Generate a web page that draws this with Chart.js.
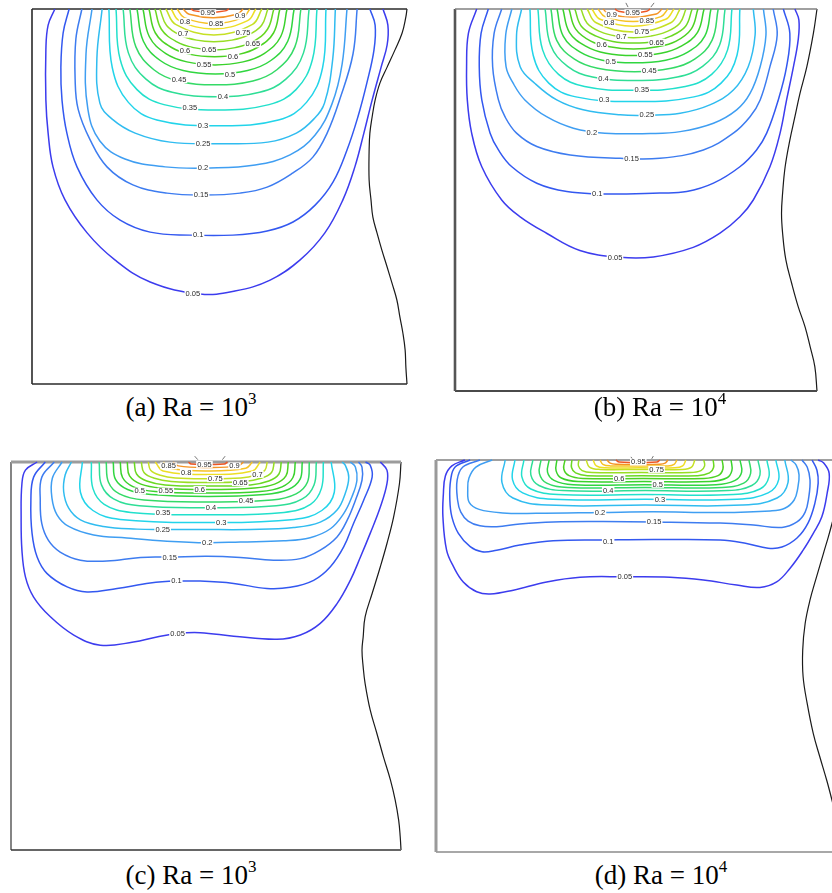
<!DOCTYPE html>
<html>
<head>
<meta charset="utf-8">
<script src="https://cdn.jsdelivr.net/npm/chart.js@4.4.1/dist/chart.umd.min.js"></script>
<style>
  html, body { margin: 0; padding: 0; background: #fff; width: 832px; height: 893px; overflow: hidden; position: relative; }
  canvas { position: absolute; }
  .cap { position: absolute; width: 260px; text-align: center; white-space: nowrap;
         font-family: "Liberation Serif", "Times New Roman", serif; font-size: 27px; line-height: 27px; color: #000; }
  .cap sup { font-size: 17px; vertical-align: baseline; position: relative; top: -12px; }
</style>
</head>
<body>
<canvas id="pa"></canvas>
<canvas id="pb"></canvas>
<canvas id="pc"></canvas>
<canvas id="pd"></canvas>
<div class="cap" style="left:61px;top:394px">(a) Ra = 10<sup>3</sup></div>
<div class="cap" style="left:530px;top:394px">(b) Ra = 10<sup>4</sup></div>
<div class="cap" style="left:61px;top:862px">(c) Ra = 10<sup>3</sup></div>
<div class="cap" style="left:531px;top:862px">(d) Ra = 10<sup>4</sup></div>
<script>
// Isotherm levels (dimensionless temperature) drawn in every panel
const levels = [0.05, 0.1, 0.15, 0.2, 0.25, 0.3, 0.35, 0.4, 0.45, 0.5,
                0.55, 0.6, 0.65, 0.7, 0.75, 0.8, 0.85, 0.9, 0.95];

// Isotherm paths in the unit cavity (x: 0 left wall .. 1 top-right corner, y: 0 bottom .. 1 top)
const contoursA = [
  [[.061,1],[.043,.957],[.037,.891],[.037,.757],[.043,.669],[.056,.579],[.088,.491],[.147,.403],[.221,.331],[.315,.272],[.448,.240],[.541,.248],[.635,.277],[.715,.331],[.781,.403],[.829,.491],[.861,.579],[.885,.669],[.907,.757],[.931,.845],[.947,.904],[.949,.957],[.936,1]],
  [[.099,1],[.083,.936],[.077,.845],[.080,.757],[.093,.669],[.120,.579],[.173,.491],[.235,.437],[.315,.405],[.421,.397],[.536,.397],[.627,.408],[.696,.432],[.755,.477],[.803,.539],[.840,.624],[.869,.712],[.893,.803],[.912,.891],[.915,.957],[.901,1]],
  [[.133,1],[.117,.920],[.115,.813],[.123,.733],[.155,.651],[.200,.579],[.269,.531],[.360,.509],[.461,.504],[.555,.509],[.627,.525],[.696,.563],[.749,.605],[.787,.669],[.821,.760],[.856,.880],[.867,1]],
  [[.160,1],[.144,.880],[.149,.733],[.181,.648],[.248,.600],[.355,.579],[.475,.576],[.595,.584],[.688,.611],[.755,.664],[.800,.747],[.827,.853],[.840,1]],
  [[.187,1],[.173,.867],[.181,.749],[.213,.707],[.275,.669],[.368,.645],[.499,.641],[.629,.645],[.705,.669],[.752,.707],[.780,.749],[.802,.867],[.809,1]],
  [[.205,1],[.214,.844],[.257,.751],[.333,.704],[.497,.689],[.657,.704],[.732,.751],[.775,.844],[.784,1]],
  [[.224,1],[.235,.866],[.280,.785],[.352,.745],[.492,.731],[.632,.745],[.704,.785],[.748,.866],[.760,1]],
  [[.243,1],[.257,.883],[.304,.813],[.374,.778],[.491,.766],[.607,.778],[.677,.813],[.724,.883],[.739,1]],
  [[.261,1],[.277,.899],[.325,.838],[.389,.808],[.489,.798],[.589,.808],[.653,.838],[.701,.899],[.717,1]],
  [[.280,1],[.297,.914],[.343,.862],[.403,.836],[.489,.827],[.575,.836],[.636,.862],[.682,.914],[.699,1]],
  [[.296,1],[.313,.926],[.357,.881],[.413,.859],[.488,.851],[.563,.859],[.619,.881],[.663,.926],[.680,1]],
  [[.312,1],[.329,.936],[.371,.898],[.422,.879],[.487,.873],[.551,.879],[.602,.898],[.644,.936],[.661,1]],
  [[.328,1],[.345,.946],[.385,.913],[.431,.897],[.487,.891],[.542,.897],[.589,.913],[.628,.946],[.645,1]],
  [[.341,1],[.359,.956],[.396,.930],[.439,.917],[.485,.913],[.533,.917],[.575,.930],[.612,.956],[.629,1]],
  [[.357,1],[.383,.959],[.485,.931],[.588,.959],[.613,1]],
  [[.371,1],[.393,.969],[.484,.947],[.575,.969],[.597,1]],
  [[.387,1],[.406,.977],[.484,.961],[.562,.977],[.581,1]],
  [[.403,1],[.419,.986],[.483,.977],[.547,.986],[.563,1]],
  [[.424,1],[.434,.995],[.475,.991],[.515,.995],[.525,1]]
];
const wallA = [[1,1],[.997,.979],[.987,.936],[.968,.891],[.947,.845],[.928,.803],[.915,.757],[.907,.712],[.901,.669],[.899,.624],[.899,.544],[.904,.491],[.909,.445],[.920,.403],[.933,.357],[.947,.312],[.960,.269],[.973,.224],[.981,.179],[.989,.136],[.995,.091],[.997,.045],[1,0]];
const labelsA = [[0.95,.469,.990],[0.9,.555,.981],[0.8,.408,.967],[0.85,.491,.960],[0.7,.403,.933],[0.75,.563,.938],
  [0.65,.589,.907],[0.6,.408,.888],[0.65,.472,.891],[0.6,.536,.873],[0.55,.459,.851],[0.5,.528,.824],[0.45,.392,.812],
  [0.4,.509,.765],[0.35,.421,.737],[0.3,.456,.688],[0.25,.456,.640],[0.2,.456,.577],[0.15,.451,.504],[0.1,.443,.397],[0.05,.429,.240]];
const ticksA = [];

const contoursB = [
  [[.060,1],[.037,.936],[.032,.849],[.034,.762],[.046,.675],[.074,.587],[.129,.500],[.180,.456],[.253,.413],[.345,.368],[.456,.350],[.548,.351],[.658,.376],[.732,.413],[.787,.456],[.824,.500],[.870,.587],[.898,.675],[.916,.762],[.935,.849],[.948,.919],[.950,.971],[.939,1]],
  [[.092,1],[.072,.936],[.067,.849],[.074,.762],[.097,.675],[.120,.631],[.157,.587],[.226,.544],[.309,.522],[.401,.516],[.474,.516],[.566,.518],[.640,.522],[.714,.544],[.787,.587],[.833,.631],[.861,.675],[.893,.762],[.916,.849],[.925,.936],[.907,1]],
  [[.129,1],[.108,.936],[.104,.849],[.120,.762],[.138,.718],[.170,.675],[.226,.640],[.318,.618],[.456,.609],[.566,.609],[.686,.631],[.769,.675],[.815,.718],[.843,.762],[.870,.849],[.890,.932],[.879,1]],
  [[.157,1],[.140,.932],[.141,.849],[.161,.805],[.193,.762],[.253,.718],[.327,.688],[.414,.675],[.539,.674],[.622,.679],[.714,.701],[.778,.736],[.815,.779],[.843,.849],[.859,.932],[.852,1]],
  [[.184,1],[.170,.932],[.180,.849],[.221,.805],[.281,.762],[.354,.736],[.456,.723],[.539,.722],[.622,.727],[.704,.749],[.769,.788],[.810,.849],[.829,.932],[.824,1]],
  [[.207,1],[.216,.879],[.259,.806],[.334,.770],[.497,.758],[.660,.770],[.735,.806],[.779,.879],[.787,1]],
  [[.229,1],[.242,.893],[.286,.829],[.358,.797],[.497,.787],[.636,.797],[.709,.829],[.753,.893],[.765,1]],
  [[.249,1],[.264,.906],[.311,.850],[.380,.822],[.497,.813],[.614,.822],[.684,.850],[.731,.906],[.746,1]],
  [[.265,1],[.281,.918],[.330,.869],[.394,.845],[.496,.836],[.597,.845],[.662,.869],[.710,.918],[.727,1]],
  [[.282,1],[.299,.929],[.346,.887],[.407,.866],[.494,.859],[.582,.866],[.643,.887],[.690,.929],[.707,1]],
  [[.298,1],[.316,.939],[.361,.903],[.417,.884],[.493,.878],[.569,.884],[.625,.903],[.670,.939],[.688,1]],
  [[.315,1],[.333,.948],[.375,.916],[.427,.901],[.493,.895],[.559,.901],[.611,.916],[.653,.948],[.671,1]],
  [[.331,1],[.349,.955],[.390,.929],[.436,.915],[.493,.911],[.550,.915],[.596,.929],[.637,.955],[.655,1]],
  [[.348,1],[.365,.963],[.403,.940],[.445,.929],[.493,.925],[.541,.929],[.583,.940],[.621,.963],[.638,1]],
  [[.365,1],[.390,.964],[.493,.940],[.596,.964],[.622,1]],
  [[.378,1],[.401,.973],[.492,.955],[.582,.973],[.605,1]],
  [[.395,1],[.414,.980],[.492,.967],[.569,.980],[.588,1]],
  [[.409,1],[.425,.987],[.490,.979],[.556,.987],[.572,1]],
  [[.442,1],[.452,.994],[.490,.990],[.529,.994],[.539,1]]
];
const wallB = [[1,1],[.990,.936],[.972,.849],[.953,.779],[.939,.718],[.925,.657],[.912,.587],[.905,.518],[.902,.465],[.905,.413],[.914,.343],[.930,.282],[.948,.221],[.967,.168],[.981,.116],[.994,.064],[1,0]];
const labelsB = [[0.95,.491,.990],[0.9,.433,.984],[0.85,.530,.969],[0.8,.426,.963],[0.75,.516,.941],[0.7,.460,.927],
  [0.65,.557,.913],[0.6,.405,.906],[0.55,.526,.880],[0.5,.430,.862],[0.45,.537,.838],[0.4,.410,.819],[0.35,.516,.788],
  [0.3,.412,.762],[0.25,.530,.723],[0.2,.378,.676],[0.15,.488,.609],[0.1,.393,.516],[0.05,.442,.349]];
const ticksB = [[[.472,1.016],[.478,1.005]],[[.550,1.016],[.541,1.005]]];

const contoursC = [
  [[.067,1],[.037,.979],[.028,.944],[.026,.858],[.028,.773],[.037,.704],[.058,.652],[.101,.601],[.161,.554],[.229,.528],[.314,.536],[.374,.549],[.427,.558],[.485,.560],[.571,.551],[.682,.543],[.742,.554],[.793,.584],[.836,.635],[.870,.695],[.896,.755],[.921,.816],[.947,.884],[.964,.944],[.964,.979],[.947,1]],
  [[.088,1],[.058,.961],[.051,.901],[.054,.816],[.067,.755],[.092,.713],[.144,.678],[.195,.665],[.272,.674],[.357,.688],[.424,.693],[.485,.693],[.571,.687],[.656,.674],[.716,.677],[.776,.695],[.819,.730],[.853,.781],[.878,.841],[.904,.901],[.926,.961],[.921,.992],[.909,1]],
  [[.111,1],[.079,.961],[.075,.901],[.079,.841],[.096,.798],[.126,.768],[.178,.747],[.246,.745],[.332,.754],[.407,.755],[.503,.757],[.588,.754],[.673,.747],[.742,.751],[.793,.773],[.836,.807],[.862,.850],[.883,.901],[.900,.953],[.900,.987],[.891,1]],
  [[.131,1],[.106,.958],[.105,.907],[.118,.864],[.148,.834],[.212,.812],[.297,.804],[.400,.796],[.503,.792],[.588,.794],[.699,.797],[.767,.805],[.819,.828],[.853,.867],[.874,.910],[.887,.953],[.883,.987],[.870,1]],
  [[.155,1],[.139,.967],[.135,.924],[.148,.881],[.178,.851],[.237,.834],[.323,.827],[.388,.826],[.485,.826],[.614,.826],[.725,.831],[.793,.845],[.836,.876],[.857,.919],[.866,.961],[.857,.992],[.849,1]],
  [[.183,1],[.178,.922],[.210,.875],[.280,.852],[.503,.844],[.726,.852],[.797,.875],[.829,.922],[.821,1]],
  [[.206,1],[.210,.932],[.239,.891],[.307,.870],[.503,.864],[.700,.870],[.768,.891],[.796,.932],[.801,1]],
  [[.226,1],[.232,.941],[.263,.905],[.329,.887],[.505,.882],[.680,.887],[.747,.905],[.777,.941],[.783,1]],
  [[.244,1],[.250,.948],[.278,.918],[.341,.902],[.505,.897],[.669,.902],[.731,.918],[.760,.948],[.765,1]],
  [[.262,1],[.268,.955],[.299,.929],[.359,.916],[.505,.911],[.650,.916],[.711,.929],[.741,.955],[.747,1]],
  [[.280,1],[.286,.960],[.314,.936],[.370,.924],[.505,.920],[.639,.924],[.695,.936],[.723,.960],[.729,1]],
  [[.298,1],[.304,.964],[.333,.943],[.385,.933],[.505,.929],[.624,.933],[.676,.943],[.705,.964],[.711,1]],
  [[.316,1],[.322,.969],[.348,.951],[.395,.941],[.505,.938],[.614,.941],[.661,.951],[.687,.969],[.693,1]],
  [[.334,1],[.341,.973],[.368,.958],[.411,.950],[.505,.947],[.598,.950],[.641,.958],[.668,.973],[.675,1]],
  [[.352,1],[.358,.979],[.383,.966],[.421,.959],[.505,.957],[.589,.959],[.627,.966],[.651,.979],[.657,1]],
  [[.370,1],[.390,.977],[.505,.968],[.619,.977],[.639,1]],
  [[.391,1],[.408,.984],[.505,.977],[.602,.984],[.619,1]],
  [[.416,1],[.429,.990],[.506,.986],[.582,.990],[.596,1]],
  [[.455,1],[.462,.995],[.505,.994],[.547,.995],[.555,1]]
];
const wallC = [[1,1],[.996,.944],[.981,.858],[.964,.790],[.947,.730],[.926,.661],[.908,.601],[.903,.549],[.900,.515],[.903,.472],[.908,.429],[.921,.361],[.938,.301],[.955,.240],[.973,.180],[.985,.129],[.994,.077],[.998,.034],[1,0]];
const labelsC = [[0.95,.496,.994],[0.85,.404,.990],[0.9,.573,.990],[0.8,.449,.973],[0.7,.632,.968],[0.75,.524,.957],
  [0.65,.588,.947],[0.5,.330,.925],[0.55,.397,.925],[0.6,.484,.929],[0.45,.603,.901],[0.4,.513,.883],[0.35,.390,.869],
  [0.3,.539,.843],[0.25,.389,.826],[0.2,.503,.792],[0.15,.407,.754],[0.1,.424,.693],[0.05,.427,.558]];
const ticksC = [[[.471,1.015],[.479,1.006]],[[.549,1.015],[.542,1.006]]];

const contoursD = [
  [[.071,1],[.039,.985],[.023,.959],[.018,.911],[.017,.855],[.026,.770],[.043,.728],[.067,.689],[.100,.664],[.133,.658],[.190,.668],[.272,.689],[.354,.701],[.464,.702],[.575,.701],[.657,.694],[.739,.681],[.796,.675],[.837,.689],[.870,.724],[.902,.770],[.927,.813],[.948,.855],[.961,.915],[.966,.966],[.952,.993],[.939,1]],
  [[.084,1],[.047,.982],[.036,.949],[.034,.898],[.039,.855],[.055,.813],[.084,.779],[.113,.766],[.149,.770],[.206,.783],[.288,.794],[.422,.796],[.534,.797],[.698,.796],[.763,.787],[.816,.775],[.850,.778],[.887,.801],[.914,.839],[.931,.890],[.939,.941],[.936,.974],[.924,1]],
  [[.108,1],[.066,.982],[.052,.949],[.053,.898],[.061,.867],[.079,.844],[.108,.832],[.149,.830],[.206,.837],[.288,.842],[.411,.843],[.534,.842],[.698,.839],[.780,.834],[.850,.828],[.887,.842],[.907,.867],[.916,.906],[.919,.949],[.912,.982],[.899,1]],
  [[.138,1],[.098,.982],[.081,.954],[.078,.925],[.082,.891],[.106,.874],[.164,.865],[.246,.864],[.403,.866],[.534,.868],[.698,.866],[.821,.870],[.857,.877],[.880,.898],[.889,.929],[.892,.962],[.885,.987],[.872,1]],
  [[.170,1],[.162,.943],[.189,.903],[.275,.885],[.514,.885],[.752,.885],[.838,.903],[.865,.943],[.857,1]],
  [[.194,1],[.188,.950],[.213,.916],[.287,.900],[.514,.900],[.740,.900],[.816,.916],[.842,.950],[.835,1]],
  [[.216,1],[.211,.957],[.233,.926],[.300,.912],[.514,.912],[.730,.912],[.796,.926],[.818,.957],[.813,1]],
  [[.238,1],[.233,.962],[.253,.935],[.312,.922],[.514,.922],[.717,.922],[.776,.935],[.796,.962],[.791,1]],
  [[.258,1],[.254,.966],[.272,.941],[.324,.930],[.514,.930],[.703,.930],[.756,.941],[.773,.966],[.769,1]],
  [[.278,1],[.274,.969],[.290,.948],[.337,.937],[.514,.937],[.688,.937],[.735,.948],[.751,.969],[.747,1]],
  [[.297,1],[.295,.973],[.308,.954],[.349,.945],[.511,.945],[.673,.945],[.714,.954],[.727,.973],[.725,1]],
  [[.317,1],[.314,.977],[.327,.960],[.361,.953],[.509,.953],[.658,.953],[.693,.960],[.705,.977],[.703,1]],
  [[.334,1],[.333,.981],[.343,.967],[.372,.960],[.506,.960],[.643,.960],[.672,.967],[.682,.981],[.681,1]],
  [[.351,1],[.350,.985],[.359,.973],[.383,.968],[.504,.968],[.624,.968],[.651,.973],[.660,.985],[.658,1]],
  [[.369,1],[.377,.982],[.403,.976],[.501,.976],[.604,.976],[.628,.982],[.636,1]],
  [[.386,1],[.394,.985],[.415,.980],[.501,.980],[.587,.980],[.606,.985],[.614,1]],
  [[.403,1],[.410,.989],[.428,.985],[.496,.985],[.570,.985],[.585,.989],[.592,1]],
  [[.420,1],[.428,.992],[.442,.989],[.496,.989],[.550,.989],[.563,.992],[.570,1]],
  [[.442,1],[.450,.995],[.496,.994],[.543,.995],[.550,1]]
];
const wallD = [[1,1],[.997,.950],[.986,.890],[.973,.838],[.964,.804],[.952,.762],[.935,.702],[.919,.643],[.907,.583],[.901,.515],[.902,.447],[.912,.379],[.927,.302],[.943,.243],[.960,.183],[.973,.132],[.985,.081],[.995,.030],[1,0]];
const labelsD = [[0.95,.497,.995],[0.75,.542,.976],[0.6,.450,.953],[0.5,.545,.938],[0.4,.423,.923],[0.3,.550,.900],
  [0.2,.403,.866],[0.15,.536,.842],[0.1,.423,.793],[0.05,.464,.702]];
const ticksD = [[[.479,1.008],[.483,1.002]],[[.534,1.010],[.530,1.003]]];

// ---- styling ----
const levelColors = ['#3c3cee','#3358f0','#3d7cf0','#3f9ef2','#30bcf0','#22d4ea','#22e0cc','#2ede96','#34da66',
  '#30d640','#3ad22c','#4cd222','#6ad822','#98de24','#c6e024','#eede24','#f6c224','#f49424','#ee5624'];

const panels = [
  { id: 'pa', box: { x: 32, y: 9, w: 375, h: 375 }, contours: contoursA, wall: wallA, labels: labelsA, ticks: ticksA,
    edges: { top: ['#2a2a2a', 1.6], left: ['#2a2a2a', 1.6], bottom: ['#2a2a2a', 1.6] } },
  { id: 'pb', box: { x: 455, y: 9, w: 362, h: 382 }, contours: contoursB, wall: wallB, labels: labelsB, ticks: ticksB,
    edges: { top: ['#808080', 1.5], left: ['#555555', 2.6], bottom: ['#4a4a4a', 2] } },
  { id: 'pc', box: { x: 11, y: 462, w: 390, h: 388 }, contours: contoursC, wall: wallC, labels: labelsC, ticks: ticksC,
    edges: { top: ['#9c9c9c', 3], left: ['#333333', 1.2], bottom: ['#666666', 2] } },
  { id: 'pd', box: { x: 436, y: 460, w: 407, h: 392 }, contours: contoursD, wall: wallD, labels: labelsD, ticks: ticksD,
    edges: { top: ['#a0a0a0', 2], left: ['#9a9a9a', 3], bottom: ['#a8a8a8', 2.2] } }
];

const pad = { left: 4, right: 4, top: 10, bottom: 4 };
const pts = arr => arr.map(p => ({ x: p[0], y: p[1] }));

// Inline contour labels: small dark text on a white patch that breaks the isotherm
const contourLabels = {
  id: 'contourLabels',
  afterDatasetsDraw(chart, args, opts) {
    const { ctx, scales } = chart;
    ctx.save();
    ctx.font = '7.5px "Liberation Sans", Arial, sans-serif';
    ctx.textAlign = 'center';
    ctx.textBaseline = 'middle';
    opts.items.forEach(([v, x, y]) => {
      const px = scales.x.getPixelForValue(x);
      const py = scales.y.getPixelForValue(y);
      const t = String(v);
      const w = ctx.measureText(t).width + 2;
      ctx.fillStyle = '#ffffff';
      ctx.fillRect(px - w / 2, py - 3.5, w, 7);
      ctx.fillStyle = '#2b2b2b';
      ctx.fillText(t, px, py + 0.3);
    });
    ctx.restore();
  }
};

panels.forEach(p => {
  const cv = document.getElementById(p.id);
  const W = p.box.w + pad.left + pad.right;
  const H = p.box.h + pad.top + pad.bottom;
  cv.width = W; cv.height = H;
  cv.style.left = (p.box.x - pad.left) + 'px';
  cv.style.top = (p.box.y - pad.top) + 'px';
  cv.style.width = W + 'px'; cv.style.height = H + 'px';

  const datasets = [];
  p.contours.forEach((c, i) => {
    datasets.push({ data: pts(c), showLine: true, borderColor: levelColors[i], borderWidth: 1.5,
                    tension: 0.4, pointRadius: 0, clip: false });
  });
  const top = p.edges.top, left = p.edges.left, bottom = p.edges.bottom;
  datasets.push({ data: pts([[0, 1], [1, 1]]), showLine: true, borderColor: top[0], borderWidth: top[1], tension: 0, pointRadius: 0, clip: false });
  datasets.push({ data: pts([[0, 0], [0, 1]]), showLine: true, borderColor: left[0], borderWidth: left[1], tension: 0, pointRadius: 0, clip: false });
  datasets.push({ data: pts([[0, 0], [1, 0]]), showLine: true, borderColor: bottom[0], borderWidth: bottom[1], tension: 0, pointRadius: 0, clip: false });
  datasets.push({ data: pts(p.wall), showLine: true, borderColor: '#1a1a1a', borderWidth: 1.2, tension: 0.4, pointRadius: 0, clip: false });
  p.ticks.forEach(t => {
    datasets.push({ data: pts(t), showLine: true, borderColor: '#666666', borderWidth: 0.9, tension: 0, pointRadius: 0, clip: false });
  });

  new Chart(cv, {
    type: 'scatter',
    data: { datasets },
    options: {
      responsive: false,
      animation: false,
      devicePixelRatio: 1,
      events: [],
      layout: { padding: pad },
      scales: {
        x: { type: 'linear', min: 0, max: 1, display: false },
        y: { type: 'linear', min: 0, max: 1, display: false }
      },
      plugins: { legend: { display: false }, tooltip: { enabled: false }, contourLabels: { items: p.labels } }
    },
    plugins: [contourLabels]
  });
});
</script>
</body>
</html>
